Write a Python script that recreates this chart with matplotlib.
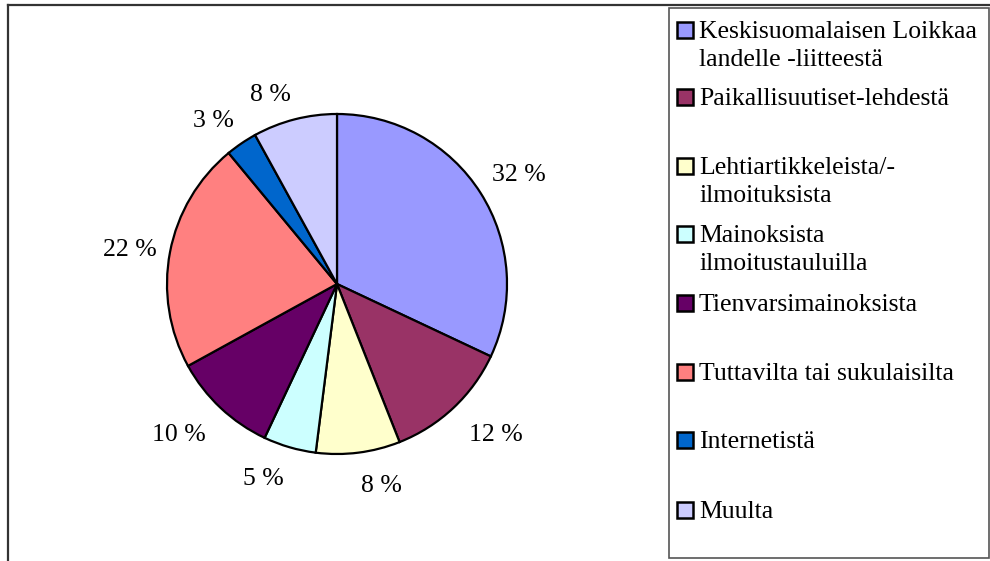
import numpy as np
import matplotlib
matplotlib.use("Agg")
import matplotlib.pyplot as plt
from matplotlib.patches import Rectangle
from matplotlib.lines import Line2D

W, H = 990, 561

categories = [
    "Keskisuomalaisen Loikkaa\nlandelle -liitteestä",
    "Paikallisuutiset-lehdestä",
    "Lehtiartikkeleista/-\nilmoituksista",
    "Mainoksista\nilmoitustauluilla",
    "Tienvarsimainoksista",
    "Tuttavilta tai sukulaisilta",
    "Internetistä",
    "Muulta",
]
shares = [32, 12, 8, 5, 10, 22, 3, 8]
colors = ["#9999FF", "#993366", "#FFFFCC", "#CCFFFF",
          "#660066", "#FF8080", "#0066CC", "#CCCCFF"]

# legend row centres in pixels (Excel spaces them unevenly)
legend_rows_y = [30, 97, 166, 234, 303, 372, 440, 510]
LINE_PX = 28

plt.rcParams["font.family"] = ["Liberation Serif", "DejaVu Serif"]
FS = 18.5


def fx(x):
    return x / W


def fy(y):
    return 1 - y / H


fig = plt.figure(figsize=(W / 100, H / 100), dpi=100)
fig.patch.set_facecolor("white")

# pie placed so that centre is at (337, 284) px with radius 170 px
cx, cy, r = 337, 284, 170
half = 1.25 * r
ax = fig.add_axes([fx(cx - half), fy(cy + half), 2 * half / W, 2 * half / H])
wedges, _, autotexts = ax.pie(
    shares, colors=colors, startangle=90, counterclock=False,
    autopct=lambda p: f"{p:.0f} %", pctdistance=1.1,
    wedgeprops=dict(edgecolor="black", linewidth=1.6),
    textprops=dict(fontsize=FS, color="black"))

# Excel-style outside labels: anchor the text box corner just off the rim
for w, t in zip(wedges, autotexts):
    ang = np.deg2rad((w.theta1 + w.theta2) / 2)
    c, s = np.cos(ang), np.sin(ang)
    t.set_ha("left" if c > 0 else "right")
    dist = 1.08
    if s > 0.3:
        t.set_va("bottom")
    elif s < -0.3:
        t.set_va("top")
        dist = 1.13
    else:
        t.set_va("center")
    t.set_position((dist * c, dist * s))

ax.set_xlim(-1.25, 1.25)
ax.set_ylim(-1.25, 1.25)
ax.set_aspect("equal")
ax.axis("off")

# outer chart frame (top and left edges visible)
fig.add_artist(Line2D([fx(8), fx(8)], [fy(5), 0], transform=fig.transFigure,
                      color="#333333", linewidth=1.6))
fig.add_artist(Line2D([fx(8), 1], [fy(5), fy(5)], transform=fig.transFigure,
                      color="#333333", linewidth=1.6))

# legend box
fig.add_artist(Rectangle((fx(669), fy(558)), fx(989) - fx(669), fy(8) - fy(558),
                         transform=fig.transFigure, facecolor="none",
                         edgecolor="#555555", linewidth=1.2))

for label, col, yc in zip(categories, colors, legend_rows_y):
    fig.add_artist(Rectangle((fx(677), fy(yc + 8)), 16 / W, 16 / H,
                             transform=fig.transFigure, facecolor=col,
                             edgecolor="black", linewidth=1.8))
    for i, line in enumerate(label.split("\n")):
        fig.text(fx(699), fy(yc + 8 + i * LINE_PX), line, fontsize=FS,
                 va="baseline", ha="left")

fig.savefig("out.png", dpi=100)
